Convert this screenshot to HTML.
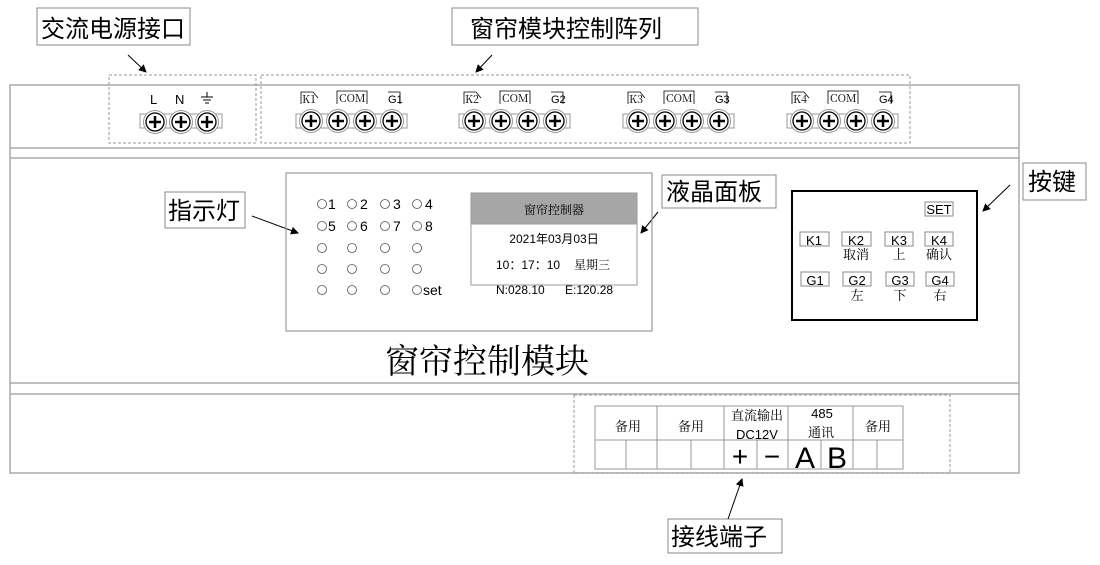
<!DOCTYPE html>
<html><head><meta charset="utf-8"><style>
body{margin:0;background:#fff}
svg{display:block}
text{font-family:"Liberation Sans","Noto Sans CJK SC",sans-serif;fill:#000}
.s{font-family:"Noto Serif CJK SC","Liberation Serif",serif}
</style></head><body>
<svg width="1100" height="565" viewBox="0 0 1100 565" xmlns="http://www.w3.org/2000/svg">
<defs>
<g id="t">
<circle r="11.5" fill="#fff" stroke="#999" stroke-width="1"/>
<circle r="9" fill="#fff" stroke="#000" stroke-width="1.3"/>
<path d="M-6 0H6M0 -6V6" stroke="#000" stroke-width="2.5"/>
</g>
<marker id="a" markerWidth="8" markerHeight="8" refX="7" refY="4" orient="auto" markerUnits="userSpaceOnUse"><path d="M0 0L8 4L0 8z" fill="#000"/></marker>
</defs>
<!-- module -->
<g fill="none" stroke="#aaa" stroke-width="1.5">
<rect x="10" y="85" width="1009" height="388"/>
<line x1="10" y1="148" x2="1019" y2="148"/>
<line x1="10" y1="158" x2="1019" y2="158"/>
<line x1="10" y1="383" x2="1019" y2="383"/>
<line x1="10" y1="394" x2="1019" y2="394"/>
</g>
<g fill="none" stroke="#999" stroke-dasharray="3,2">
<rect x="109" y="75" width="147" height="68"/>
<rect x="261" y="75" width="649" height="68"/>
<rect x="574" y="395" width="376" height="78"/>
</g>
<!-- labels -->
<g fill="#fff" stroke="#888">
<rect x="37" y="8" width="153" height="37"/>
<rect x="452" y="8" width="246" height="37"/>
<rect x="165" y="192" width="80" height="36"/>
<rect x="662" y="175" width="114" height="33"/>
<rect x="1023" y="163" width="63" height="37"/>
<rect x="668" y="519" width="114" height="34"/>
</g>
<g font-size="24">
<text x="41" y="37">交流电源接口</text>
<text x="470" y="37">窗帘模块控制阵列</text>
<text x="168" y="219">指示灯</text>
<text x="666" y="200">液晶面板</text>
<text x="1028" y="190">按键</text>
<text x="671" y="545">接线端子</text>
</g>
<g stroke="#000" stroke-width="1" marker-end="url(#a)">
<line x1="128" y1="55" x2="146" y2="72"/>
<line x1="492" y1="55" x2="476" y2="72"/>
<line x1="252" y1="216" x2="298" y2="233"/>
<line x1="658" y1="212" x2="641" y2="233"/>
<line x1="1010" y1="185" x2="983" y2="211"/>
<line x1="728" y1="519" x2="742" y2="479"/>
</g>
<!-- terminals -->
<path d="M140 114H222V128H140z" fill="#fff" stroke="#999"/>
<use href="#t" x="155" y="122"/><use href="#t" x="181" y="122"/><use href="#t" x="207" y="122"/>
<text x="150" y="104" font-size="13">L</text><text x="175" y="104" font-size="13">N</text>
<path d="M201 97H213M207 92V97M203 100H211M205 103H209" stroke="#000"/>
<g id="grp">
<path d="M296 114H407V128H296z" fill="#fff" stroke="#999"/>
<use href="#t" x="311" y="121"/><use href="#t" x="338" y="121"/><use href="#t" x="365" y="121"/><use href="#t" x="392" y="121"/>
<path d="M301 104V92H313L318 98M337 104V91H367V104M388 92H400V104" fill="none" stroke="#000" stroke-width="0.8"/>
</g>
<use href="#grp" x="163"/><use href="#grp" x="327"/><use href="#grp" x="491"/>
<g font-size="11" class="s">
<text x="302" y="103" class="s">K1</text><text x="339" y="102" class="s">COM</text><text x="388" y="103">G1</text>
<text x="465" y="103" class="s">K2</text><text x="502" y="102" class="s">COM</text><text x="551" y="103">G2</text>
<text x="629" y="103" class="s">K3</text><text x="666" y="102" class="s">COM</text><text x="715" y="103">G3</text>
<text x="793" y="103" class="s">K4</text><text x="830" y="102" class="s">COM</text><text x="879" y="103">G4</text>
</g>
<!-- display panel -->
<rect x="286" y="173" width="366" height="158" fill="none" stroke="#999" stroke-width="1.2"/>
<g fill="none" stroke="#555" stroke-width="0.8">
<circle cx="322" cy="204" r="4.5"/><circle cx="352" cy="204" r="4.5"/><circle cx="385" cy="204" r="4.5"/><circle cx="417" cy="204" r="4.5"/>
<circle cx="322" cy="226" r="4.5"/><circle cx="352" cy="226" r="4.5"/><circle cx="385" cy="226" r="4.5"/><circle cx="417" cy="226" r="4.5"/>
<circle cx="322" cy="248" r="4.5"/><circle cx="352" cy="248" r="4.5"/><circle cx="385" cy="248" r="4.5"/><circle cx="417" cy="248" r="4.5"/>
<circle cx="322" cy="269" r="4.5"/><circle cx="352" cy="269" r="4.5"/><circle cx="385" cy="269" r="4.5"/><circle cx="417" cy="269" r="4.5"/>
<circle cx="322" cy="290" r="4.5"/><circle cx="352" cy="290" r="4.5"/><circle cx="385" cy="290" r="4.5"/><circle cx="417" cy="290" r="4.5"/>
</g>
<g font-size="14">
<text x="328" y="209">1</text><text x="360" y="209">2</text><text x="393" y="209">3</text><text x="425" y="209">4</text>
<text x="328" y="231">5</text><text x="360" y="231">6</text><text x="393" y="231">7</text><text x="425" y="231">8</text>
<text x="423" y="295">set</text>
</g>
<rect x="471" y="193" width="166" height="92" fill="#fff" stroke="#999"/>
<rect x="471" y="193" width="166" height="31" fill="#a6a6a6" stroke="#999"/>
<g font-size="12">
<text x="554" y="214" text-anchor="middle" class="s">窗帘控制器</text>
<text x="554" y="243" text-anchor="middle">2021年03月03日</text>
<text x="496" y="269">10：17：10</text><text x="574" y="269" class="s">星期三</text>
<text x="496" y="294">N:028.10</text><text x="565" y="294">E:120.28</text>
</g>
<text x="487" y="373" font-size="34" text-anchor="middle" class="s">窗帘控制模块</text>
<!-- keys -->
<rect x="792" y="191" width="185" height="129" fill="none" stroke="#000" stroke-width="2"/>
<g fill="none" stroke="#888">
<rect x="925" y="202" width="28" height="14"/>
<rect x="800" y="232" width="29" height="14"/><rect x="842" y="232" width="29" height="14"/><rect x="885" y="232" width="28" height="14"/><rect x="925" y="232" width="28" height="14"/>
<rect x="801" y="272" width="28" height="14"/><rect x="843" y="272" width="28" height="14"/><rect x="886" y="272" width="28" height="14"/><rect x="926" y="272" width="28" height="14"/>
</g>
<g font-size="13" text-anchor="middle">
<text x="939" y="214">SET</text>
<text x="814" y="245">K1</text><text x="856" y="245">K2</text><text x="899" y="245">K3</text><text x="939" y="245">K4</text>
<text x="815" y="285">G1</text><text x="857" y="285">G2</text><text x="900" y="285">G3</text><text x="940" y="285">G4</text>
</g>
<g font-size="13" text-anchor="middle" class="s">
<text x="856" y="259" class="s">取消</text><text x="899" y="259" class="s">上</text><text x="939" y="259" class="s">确认</text>
<text x="857" y="300" class="s">左</text><text x="900" y="300" class="s">下</text><text x="940" y="300" class="s">右</text>
</g>
<!-- bottom table -->
<g fill="none" stroke="#999">
<rect x="595" y="406" width="308" height="63"/>
<line x1="595" y1="440" x2="903" y2="440"/>
<path d="M626 440V469M657 406V469M691 440V469M724 406V469M757 440V469M788 406V469M821 440V469M853 406V469M877 440V469"/>
</g>
<g font-size="13" text-anchor="middle">
<text x="628" y="431" class="s">备用</text><text x="691" y="431" class="s">备用</text>
<text x="757" y="420" class="s">直流输出</text><text x="757" y="439">DC12V</text>
<text x="822" y="418">485</text><text x="821" y="437" class="s">通讯</text>
<text x="878" y="431" class="s">备用</text>
<text x="740" y="466" font-size="28">+</text><text x="772" y="466" font-size="28">−</text>
<text x="805" y="468" font-size="30">A</text><text x="837" y="468" font-size="30">B</text>
</g>
</svg>
</body></html>
